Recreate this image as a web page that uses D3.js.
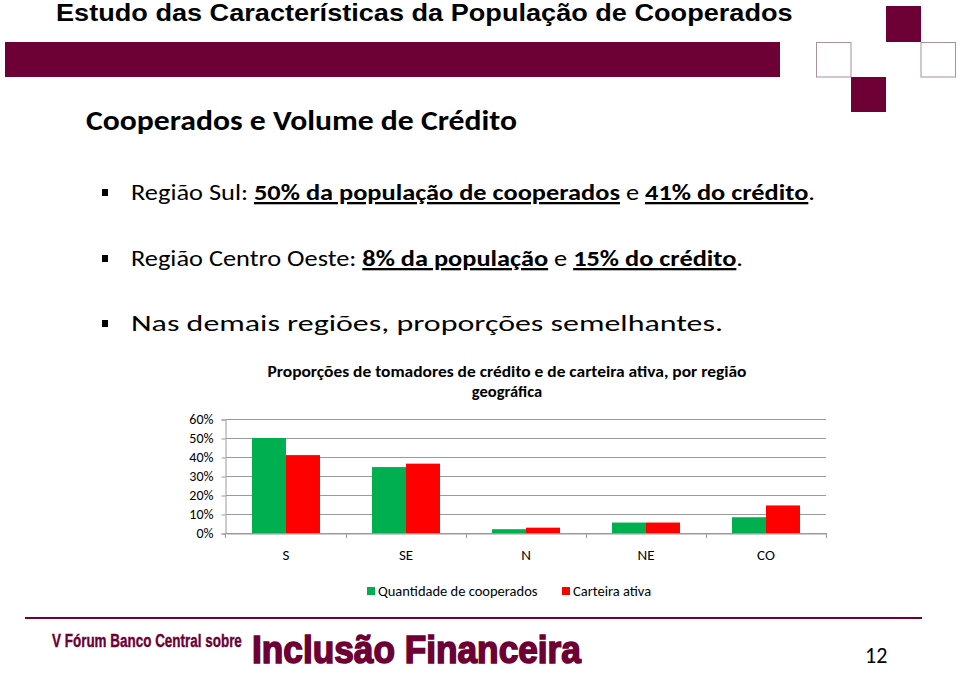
<!DOCTYPE html>
<html><head><meta charset="utf-8">
<script src="https://cdn.jsdelivr.net/npm/d3@7"></script>
<style>
html,body{margin:0;padding:0;background:#fff;}
svg{display:block;}
</style></head>
<body>
<svg id="c" width="960" height="673"></svg>
<script>
const categories = ["S", "SE", "N", "NE", "CO"];
const seriesNames = ["Quantidade de cooperados", "Carteira ativa"];
const cooperados = [0.50, 0.347, 0.02, 0.055, 0.083];
const carteira = [0.41, 0.365, 0.028, 0.055, 0.145];
const yTicks = [0, 0.1, 0.2, 0.3, 0.4, 0.5, 0.6];
const colors = ["#00b050", "#ff0000"];
const maroon = "#6d0034";

const svg = d3.select("#c");
const body = "Calibri, Carlito, Lato, 'Open Sans', sans-serif";
const narrow = "'Liberation Sans Narrow', 'Arial Narrow', 'Liberation Sans', Arial, sans-serif";

// fit a text horizontally to a given width using a scale transform
function fitText(sel, x, yb, width) {
  sel.attr("x", 0).attr("y", 0);
  const w = sel.node().getComputedTextLength();
  sel.attr("transform", `translate(${x},${yb}) scale(${width / w},1)`);
}

// Header
const ht = svg.append("text")
  .attr("font-family", narrow)
  .attr("font-weight", "bold").attr("font-size", 24).attr("fill", "#000")
  .text("Estudo das Características da População de Cooperados");
fitText(ht, 56, 21, 737);
svg.append("rect").attr("x", 5).attr("y", 42).attr("width", 775).attr("height", 35).attr("fill", maroon);
svg.append("rect").attr("x", 886).attr("y", 6).attr("width", 35).attr("height", 36).attr("fill", maroon);
svg.append("rect").attr("x", 851).attr("y", 77).attr("width", 35).attr("height", 35).attr("fill", maroon);
svg.append("rect").attr("x", 816.5).attr("y", 42.5).attr("width", 34.5).attr("height", 34.5).attr("fill", "none").attr("stroke", "#a8909c").attr("stroke-width", 1);
svg.append("rect").attr("x", 921).attr("y", 42.5).attr("width", 34.5).attr("height", 34.5).attr("fill", "none").attr("stroke", "#a8909c").attr("stroke-width", 1);

// Heading
svg.append("text").attr("x", 86).attr("y", 130)
  .attr("font-family", body).attr("font-weight", "bold").attr("font-size", 28)
  .attr("textLength", 431).attr("lengthAdjust", "spacingAndGlyphs")
  .text("Cooperados e Volume de Crédito");

// Bullets
const bullets = [
  {y: 200, len: 684, parts: [["Região Sul: ", false], ["50% da população de cooperados", true], [" e ", false], ["41% do crédito", true], [".", false]]},
  {y: 266, len: 612, parts: [["Região Centro Oeste: ", false], ["8% da população", true], [" e ", false], ["15% do crédito", true], [".", false]]},
  {y: 331, len: 592, parts: [["Nas demais regiões, proporções semelhantes.", false]]}
];
bullets.forEach(b => {
  svg.append("rect").attr("x", 102).attr("y", b.y - 11).attr("width", 6).attr("height", 7).attr("fill", "#000");
  const t = svg.append("text").attr("x", 131).attr("y", b.y)
    .attr("font-family", body).attr("font-size", 23).attr("fill", "#000")
    .attr("textLength", b.len).attr("lengthAdjust", "spacingAndGlyphs");
  b.parts.forEach(p => {
    const s = t.append("tspan").text(p[0]);
    if (p[1]) s.attr("font-weight", "bold").attr("text-decoration", "underline");
  });
});

// Chart
const x0 = d3.scaleBand().domain(categories).range([226, 826]).paddingInner(0).paddingOuter(0);
const y = d3.scaleLinear().domain([0, 0.6]).range([533, 419]);
const barW = 34;

const chart = svg.append("g");
chart.selectAll("line.grid").data(yTicks).join("line")
  .attr("x1", 226).attr("x2", 826)
  .attr("y1", d => Math.round(y(d)) + 0.5).attr("y2", d => Math.round(y(d)) + 0.5)
  .attr("stroke", "#9a9a9a").attr("stroke-width", 1);

const yAxis = d3.axisLeft(y).tickValues(yTicks).tickFormat(d3.format(".0%")).tickSize(4).tickPadding(8);
const ga = chart.append("g").attr("transform", "translate(225.5,0.5)").call(yAxis);
ga.select(".domain").attr("stroke", "#9a9a9a");
ga.selectAll(".tick line").attr("stroke", "#9a9a9a");
ga.selectAll(".tick text").attr("font-family", body).attr("font-size", 14).attr("fill", "#000");

const series = [cooperados, carteira];
series.forEach((vals, si) => {
  chart.selectAll("rect.s" + si).data(categories).join("rect")
    .attr("x", (c) => x0(c) + x0.bandwidth() / 2 - barW + si * barW)
    .attr("y", (c, i) => y(vals[i]))
    .attr("width", barW)
    .attr("height", (c, i) => y(0) - y(vals[i]))
    .attr("fill", colors[si]);
});

// x axis
const xa = d3.axisBottom(x0).tickSize(0).tickPadding(16);
const gx = chart.append("g").attr("transform", "translate(0,533.5)").call(xa);
gx.select(".domain").attr("stroke", "#9a9a9a");
gx.selectAll(".tick text").attr("font-family", body).attr("font-size", 15).attr("fill", "#000");
// category boundary ticks
chart.selectAll("line.bt").data(categories.slice(1).concat(["end"])).join("line")
  .attr("x1", (d, i) => 226 + x0.bandwidth() * (i + 1) + 0.5)
  .attr("x2", (d, i) => 226 + x0.bandwidth() * (i + 1) + 0.5)
  .attr("y1", 533).attr("y2", 538)
  .attr("stroke", "#9a9a9a");
chart.append("line").attr("x1", 225.5).attr("x2", 225.5).attr("y1", 533).attr("y2", 538).attr("stroke", "#9a9a9a");

// Chart title
const ct = svg.append("text").attr("font-family", body).attr("font-weight", "bold").attr("font-size", 16.5).attr("text-anchor", "middle");
ct.append("tspan").attr("x", 507).attr("y", 377).attr("textLength", 479).attr("lengthAdjust", "spacingAndGlyphs")
  .text("Proporções de tomadores de crédito e de carteira ativa, por região");
ct.append("tspan").attr("x", 507).attr("y", 397).text("geográfica");

// Legend
const legX = [367, 562];
seriesNames.forEach((n, i) => {
  svg.append("rect").attr("x", legX[i]).attr("y", 587).attr("width", 8).attr("height", 8).attr("fill", colors[i]);
  svg.append("text").attr("x", legX[i] + 11).attr("y", 596).attr("font-family", body).attr("font-size", 14.5).text(n);
});

// Footer
svg.append("line").attr("x1", 25).attr("x2", 922).attr("y1", 618).attr("y2", 618).attr("stroke", maroon).attr("stroke-width", 2);
const f1 = svg.append("text")
  .attr("font-family", narrow).attr("font-weight", "bold").attr("font-size", 19).attr("fill", maroon)
  .attr("stroke", maroon).attr("stroke-width", 0.4)
  .text("V Fórum Banco Central sobre");
fitText(f1, 52, 647, 190);
const f2 = svg.append("text")
  .attr("font-family", narrow).attr("font-weight", "bold").attr("font-size", 39).attr("fill", maroon)
  .attr("stroke", maroon).attr("stroke-width", 1.6)
  .text("Inclusão Financeira");
fitText(f2, 252, 663, 329);
svg.append("text").attr("x", 865).attr("y", 663).attr("font-family", body).attr("font-size", 22).attr("fill", "#000").text("12");
</script>
</body></html>
